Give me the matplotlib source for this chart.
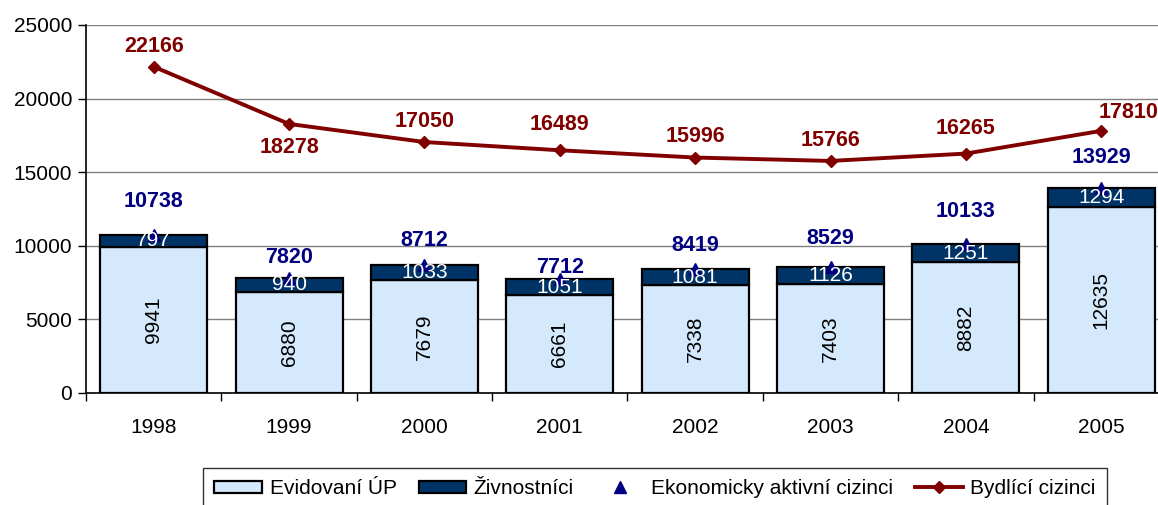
import matplotlib
matplotlib.use("Agg")
import matplotlib.pyplot as plt
from matplotlib.lines import Line2D
from matplotlib.patches import Patch
import numpy as np

plt.rcParams['font.family'] = ['Liberation Sans', 'DejaVu Sans']

years = ["1998", "1999", "2000", "2001", "2002", "2003", "2004", "2005"]
evidovani = [9941, 6880, 7679, 6661, 7338, 7403, 8882, 12635]
zivnostnici = [797, 940, 1033, 1051, 1081, 1126, 1251, 1294]
ekon_aktivni = [10738, 7820, 8712, 7712, 8419, 8529, 10133, 13929]
bydlici = [22166, 18278, 17050, 16489, 15996, 15766, 16265, 17810]

# label offsets in pixels (x, y) - layout only
red_off = [(0, 20), (0, -24), (0, 21), (0, 26), (0, 21), (0, 20), (0, 25), (27, 18)]
blue_off = [(0, 33), (0, 20), (0, 24), (0, 12), (0, 24), (0, 29), (0, 32), (0, 30)]

light = "#D5E9FD"
dark = "#003366"
red = "#800000"
navy = "#000080"

DPI = 100
fig = plt.figure(figsize=(11.58, 5.05), dpi=DPI)
W, H = 1158, 505
left, right, top, bottom = 86, 1169, 25, 393
ax = fig.add_axes([left / W, 1 - bottom / H, (right - left) / W, (bottom - top) / H])

x = np.arange(len(years))
ax.bar(x, evidovani, width=0.79, color=light, edgecolor="black", linewidth=1.6, zorder=2)
ax.bar(x, zivnostnici, width=0.79, bottom=evidovani, color=dark, edgecolor="black",
       linewidth=1.6, zorder=2)
ax.plot(x, ekon_aktivni, linestyle="none", marker="^", color=navy, markersize=8, zorder=3)
ax.plot(x, bydlici, color=red, linewidth=2.8, marker="D", markersize=6, zorder=4)

pt = 72.0 / DPI
for i in range(len(years)):
    ax.text(x[i], evidovani[i] / 2, str(evidovani[i]), rotation=90, ha="center",
            va="center", fontsize=15, color="black", zorder=5)
    ax.text(x[i], evidovani[i] + zivnostnici[i] / 2, str(zivnostnici[i]), ha="center",
            va="center", fontsize=15, color="white", zorder=5)
    ax.annotate(str(ekon_aktivni[i]), (x[i], ekon_aktivni[i]),
                xytext=(blue_off[i][0] * pt, blue_off[i][1] * pt), textcoords="offset points",
                ha="center", va="center", fontsize=15.5, fontweight="bold", color=navy,
                zorder=6, annotation_clip=False)
    ax.annotate(str(bydlici[i]), (x[i], bydlici[i]),
                xytext=(red_off[i][0] * pt, red_off[i][1] * pt), textcoords="offset points",
                ha="center", va="center", fontsize=15.5, fontweight="bold", color=red,
                zorder=6, annotation_clip=False)

ax.set_xlim(-0.5, len(years) - 0.5)
ax.set_ylim(0, 25000)
ax.set_yticks(range(0, 25001, 5000))
ax.set_xticks(x)
ax.set_xticklabels(years)
ax.set_xticks(np.arange(-0.5, len(years)), minor=True)
ax.tick_params(axis="x", which="major", length=0, labelsize=15, pad=18)
ax.tick_params(axis="x", which="minor", length=6, width=1, color="black", direction="out")
ax.tick_params(axis="y", length=6, width=1, labelsize=15, pad=4, direction="out")
ax.yaxis.grid(True, color="#808080", linewidth=1, zorder=0)
ax.set_axisbelow(True)
for s in ["top", "right"]:
    ax.spines[s].set_visible(False)
for s in ["left", "bottom"]:
    ax.spines[s].set_color("black")
    ax.spines[s].set_linewidth(1.2)

handles = [
    Patch(facecolor=light, edgecolor="black", linewidth=1.6, label="Evidovaní ÚP"),
    Patch(facecolor=dark, edgecolor="black", linewidth=1.6, label="Živnostníci"),
    Line2D([], [], linestyle="none", marker="^", color=navy, markersize=8,
           label="Ekonomicky aktivní cizinci"),
    Line2D([], [], color=red, linewidth=2.8, marker="D", markersize=6, label="Bydlící cizinci"),
]
leg = fig.legend(handles=handles, loc="upper left", bbox_to_anchor=(203 / W, 1 - 467.5 / H),
                 ncol=4, fontsize=15, frameon=True, fancybox=False, edgecolor="black",
                 handlelength=2.3, handleheight=0.5, handletextpad=0.35, columnspacing=1.05,
                 borderpad=0.55, borderaxespad=0)
leg.get_frame().set_linewidth(1.0)

fig.savefig("out.png", dpi=DPI)
